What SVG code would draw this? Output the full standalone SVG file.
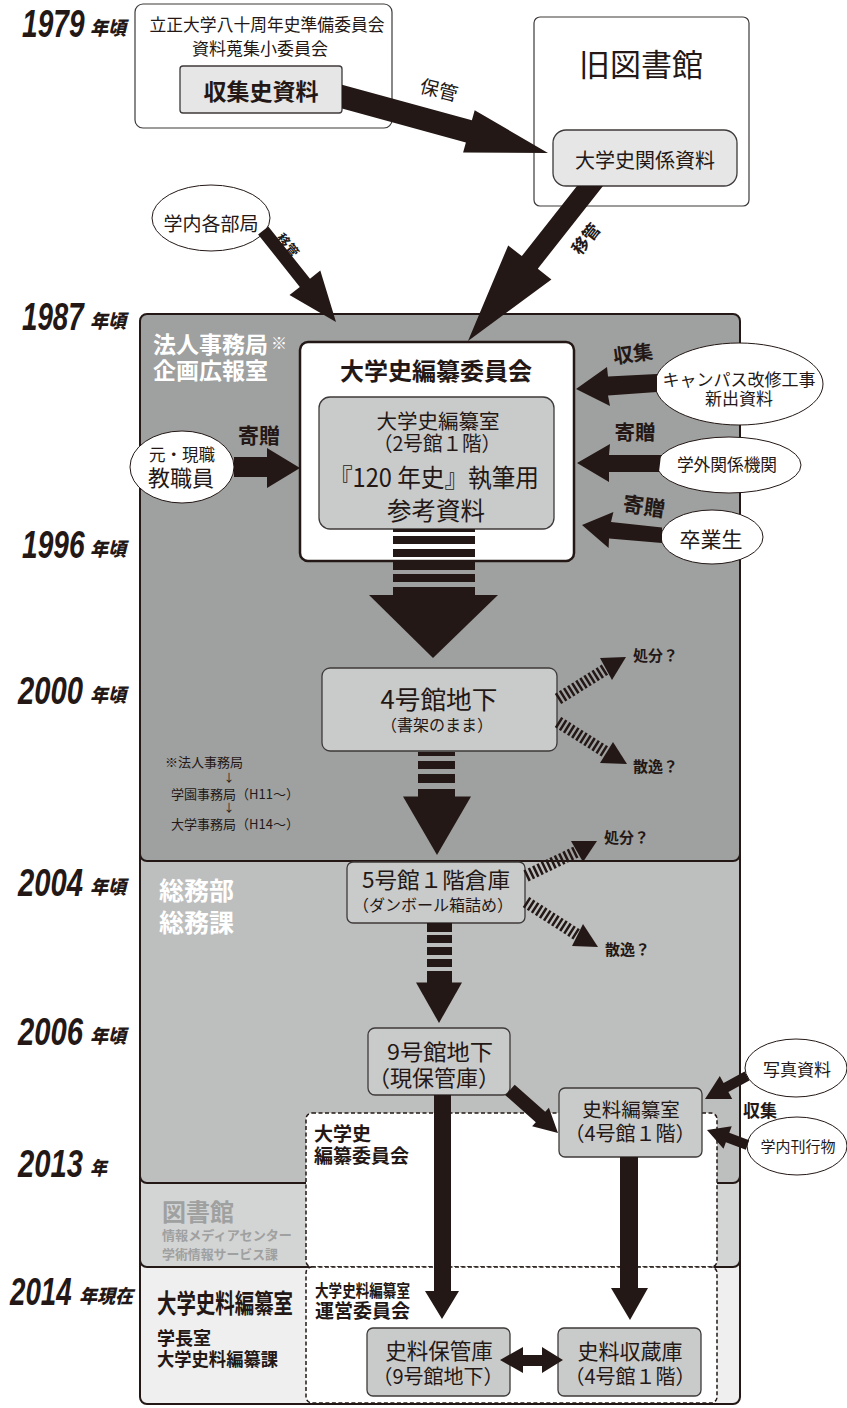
<svg xmlns="http://www.w3.org/2000/svg" width="847" height="1408" viewBox="0 0 847 1408">
<style>
.jp{font-family:"Noto Sans CJK JP","Noto Sans CJK SC",sans-serif;fill:#231815}
.b{font-weight:700}
.m{text-anchor:middle}
.w{fill:#fff}
.g{fill:#9fa0a0}
.yr{font-family:"Liberation Sans",Arial,sans-serif;font-weight:700;font-style:italic;fill:#231815;font-size:38px}
.ys{font-family:"Noto Sans CJK JP",sans-serif;font-weight:900;font-style:italic;fill:#231815;font-size:19px}
.box{fill:#c9caca;stroke:#3e3a39;stroke-width:1.3}
.lbox{fill:#e6e6e6;stroke:#3e3a39;stroke-width:1.3}
.ell{fill:#fff;stroke:#231815;stroke-width:1}
.arr{fill:#231815}
.hat{fill:none;stroke:#231815;stroke-width:12;stroke-dasharray:2.5 2.3}
.reg{stroke:#231815;stroke-width:2}
.dreg{fill:#fff;stroke:#231815;stroke-width:1.5;stroke-dasharray:4 2.5}
</style>

<g id="years">
<text class="yr" transform="translate(22 37) scale(0.74 1)">1979</text><text class="ys" x="90" y="35" textLength="36" lengthAdjust="spacingAndGlyphs">年頃</text>
<text class="yr" transform="translate(22 330) scale(0.73 1)">1987</text><text class="ys" x="90" y="328" textLength="36" lengthAdjust="spacingAndGlyphs">年頃</text>
<text class="yr" transform="translate(22 558) scale(0.74 1)">1996</text><text class="ys" x="90" y="556" textLength="36" lengthAdjust="spacingAndGlyphs">年頃</text>
<text class="yr" transform="translate(18 704) scale(0.77 1)">2000</text><text class="ys" x="90" y="702" textLength="36" lengthAdjust="spacingAndGlyphs">年頃</text>
<text class="yr" transform="translate(18 896) scale(0.77 1)">2004</text><text class="ys" x="90" y="894" textLength="36" lengthAdjust="spacingAndGlyphs">年頃</text>
<text class="yr" transform="translate(18 1045) scale(0.77 1)">2006</text><text class="ys" x="90" y="1043" textLength="36" lengthAdjust="spacingAndGlyphs">年頃</text>
<text class="yr" transform="translate(18 1177) scale(0.77 1)">2013</text><text class="ys" x="90" y="1175" textLength="17" lengthAdjust="spacingAndGlyphs">年</text>
<text class="yr" transform="translate(10 1305) scale(0.73 1)">2014</text><text class="ys" x="79" y="1303" textLength="54" lengthAdjust="spacingAndGlyphs">年現在</text>
</g>

<g id="regions">
<rect class="reg" x="140" y="1150" width="600" height="254" rx="7" fill="#efefef"/>
<rect class="reg" x="140" y="1100" width="600" height="167" rx="7" fill="#d3d4d4"/>
<rect class="reg" x="140" y="800" width="600" height="383" rx="7" fill="#bdbebe"/>
<rect class="reg" x="140" y="314" width="600" height="547" rx="7" fill="#9fa0a0"/>
<text class="jp b w" x="153" y="353" font-size="23">法人事務局</text>
<text class="jp w" x="271" y="349" font-size="16">※</text>
<text class="jp b w" x="153" y="379" font-size="23">企画広報室</text>
<text class="jp" x="165" y="767" font-size="13">※法人事務局</text>
<text class="jp m" x="229" y="782" font-size="11">↓</text>
<text class="jp" x="171" y="799" font-size="13">学園事務局（H11〜）</text>
<text class="jp m" x="229" y="812" font-size="11">↓</text>
<text class="jp" x="171" y="829" font-size="13">大学事務局（H14〜）</text>
<text class="jp b w" x="159" y="900" font-size="25">総務部</text>
<text class="jp b w" x="159" y="932" font-size="25">総務課</text>
<text class="jp b g" x="162" y="1221" font-size="24">図書館</text>
<text class="jp b g" x="162" y="1240" font-size="13" textLength="130" lengthAdjust="spacingAndGlyphs">情報メディアセンター</text>
<text class="jp b g" x="162" y="1259" font-size="13" textLength="116" lengthAdjust="spacingAndGlyphs">学術情報サービス課</text>
<text class="jp b" x="157" y="1313" font-size="26" textLength="136" lengthAdjust="spacingAndGlyphs">大学史料編纂室</text>
<text class="jp b" x="157" y="1345" font-size="18">学長室</text>
<text class="jp b" x="157" y="1366" font-size="18" textLength="121" lengthAdjust="spacingAndGlyphs">大学史料編纂課</text>
<rect class="dreg" x="306" y="1113" width="411" height="154" rx="6"/>
<rect class="dreg" x="306" y="1267" width="411" height="136" rx="6"/>
<text class="jp b" x="314" y="1141" font-size="19">大学史</text>
<text class="jp b" x="314" y="1163" font-size="19">編纂委員会</text>
<text class="jp b" x="315" y="1297" font-size="17" textLength="95" lengthAdjust="spacingAndGlyphs">大学史料編纂室</text>
<text class="jp b" x="315" y="1318" font-size="19" textLength="95" lengthAdjust="spacingAndGlyphs">運営委員会</text>
</g>

<g id="n-junbi">
<rect x="135" y="4" width="257" height="124" rx="8" fill="#fff" stroke="#3e3a39" stroke-width="1.2"/>
<text class="jp m" x="267" y="31" font-size="17" textLength="235" lengthAdjust="spacingAndGlyphs">立正大学八十周年史準備委員会</text>
<text class="jp m" x="260" y="55" font-size="17">資料蒐集小委員会</text>
</g>
<g id="n-shushu">
<rect class="lbox" x="180" y="66" width="162" height="47" rx="3"/>
<text class="jp b m" x="261" y="100" font-size="23">収集史資料</text>
</g>
<g id="n-kyutoshokan">
<rect x="534" y="17" width="215" height="189" rx="6" fill="#fff" stroke="#3e3a39" stroke-width="1.2"/>
<text class="jp m" x="641" y="76" font-size="31">旧図書館</text>
</g>
<g id="n-kankei">
<rect class="lbox" x="553" y="130" width="184" height="56" rx="13"/>
<text class="jp m" x="645" y="168" font-size="20">大学史関係資料</text>
</g>
<g id="n-gakunai">
<ellipse class="ell" cx="211" cy="218" rx="59" ry="33"/>
<text class="jp m" x="211" y="231" font-size="19">学内各部局</text>
</g>
<g id="n-iinkai">
<rect x="300" y="342" width="274" height="219" rx="8" fill="#fff" stroke="#231815" stroke-width="2.5"/>
<text class="jp b m" x="436" y="380" font-size="24">大学史編纂委員会</text>
</g>
<g id="n-hensanshitsu">
<rect class="box" x="319" y="397" width="235" height="132" rx="11"/>
<text class="jp m" x="438" y="429" font-size="20.5">大学史編纂室</text>
<text class="jp m" x="437" y="451" font-size="20" textLength="128" lengthAdjust="spacingAndGlyphs">（2号館１階）</text>
<text class="jp m" x="434" y="487" font-size="25" textLength="210" lengthAdjust="spacingAndGlyphs">『120 年史』執筆用</text>
<text class="jp m" x="436" y="520" font-size="24.5">参考資料</text>
</g>
<g id="n-kyoshokuin">
<ellipse class="ell" cx="182" cy="467" rx="52" ry="36"/>
<text class="jp m" x="182" y="461" font-size="16.5">元・現職</text>
<text class="jp m" x="181" y="486" font-size="22">教職員</text>
</g>
<g id="n-campus">
<ellipse class="ell" cx="739" cy="384" rx="84" ry="41"/>
<text class="jp m" x="739" y="386" font-size="17">キャンパス改修工事</text>
<text class="jp m" x="739" y="405" font-size="17">新出資料</text>
</g>
<g id="n-gakugai">
<ellipse class="ell" cx="729" cy="465" rx="72" ry="28"/>
<text class="jp m" x="727" y="471" font-size="16.7">学外関係機関</text>
</g>
<g id="n-sotsugyosei">
<ellipse class="ell" cx="712" cy="537" rx="51" ry="27"/>
<text class="jp m" x="711" y="547" font-size="21">卒業生</text>
</g>
<g id="n-4gokan">
<rect class="box" x="322" y="668" width="235" height="83" rx="8"/>
<text class="jp m" x="439" y="709" font-size="25" textLength="117" lengthAdjust="spacingAndGlyphs">4号館地下</text>
<text class="jp m" x="437" y="731" font-size="16">（書架のまま）</text>
</g>
<g id="n-5gokan">
<rect class="box" x="347" y="862" width="178" height="61" rx="6"/>
<text class="jp m" x="436" y="888" font-size="22" textLength="148" lengthAdjust="spacingAndGlyphs">5号館１階倉庫</text>
<text class="jp m" x="433" y="911" font-size="16">（ダンボール箱詰め）</text>
</g>
<g id="n-9gokan">
<rect class="box" x="368" y="1028" width="142" height="67" rx="7"/>
<text class="jp m" x="440" y="1060" font-size="22" textLength="106" lengthAdjust="spacingAndGlyphs">9号館地下</text>
<text class="jp m" x="434" y="1086" font-size="22">（現保管庫）</text>
</g>
<g id="n-shiryohensan">
<rect class="box" x="559" y="1088" width="143" height="69" rx="6"/>
<text class="jp m" x="631" y="1117" font-size="19.5">史料編纂室</text>
<text class="jp m" x="630" y="1141" font-size="20">（4号館１階）</text>
</g>
<g id="n-shashin">
<ellipse class="ell" cx="796" cy="1068" rx="51" ry="29"/>
<text class="jp m" x="797" y="1076" font-size="17">写真資料</text>
</g>
<g id="n-kankobutsu">
<ellipse class="ell" cx="797" cy="1146" rx="50" ry="29"/>
<text class="jp m" x="798" y="1152" font-size="15">学内刊行物</text>
</g>
<g id="n-hokanko">
<rect class="box" x="367" y="1328" width="143" height="68" rx="6"/>
<text class="jp m" x="439" y="1359" font-size="21.5">史料保管庫</text>
<text class="jp m" x="438" y="1384" font-size="20">（9号館地下）</text>
</g>
<g id="n-shuzoko">
<rect class="box" x="558" y="1328" width="143" height="68" rx="6"/>
<text class="jp m" x="630" y="1359" font-size="21">史料収蔵庫</text>
<text class="jp m" x="630" y="1384" font-size="20">（4号館１階）</text>
</g>

<g id="connectors">
<polygon class="arr" points="342,84.8 471.9,120.3 474.7,110.2 548,153 463.1,152.6 465.9,142.5 342,108.6"/>
<text class="jp m" x="439" y="97" font-size="19" transform="rotate(14 439 90)">保管</text>
<polygon class="arr" points="577,186 603,186 537.8,268.7 551.4,279.4 468,341 508.2,245.4 521.8,256.1"/>
<text class="jp b m" x="586" y="245" font-size="17" transform="rotate(-52 586 239)">移管</text>
<polygon class="arr" points="268.3,226.4 310,278.8 320.3,270.6 336,322 289.5,295.1 299.8,286.9 258.1,234.4"/>
<text class="jp b m" x="288" y="250" font-size="13" transform="rotate(50 288 245)">移管</text>
<polygon class="arr" points="234,457 267,457 267,448 300,468 267,488 267,477 234,477"/>
<text class="jp b m" x="259" y="443" font-size="21">寄贈</text>
<polygon class="arr" points="657,374 608,376.5 607,367 576,389 610,406 608,395.5 657,392"/>
<text class="jp b m" x="633" y="361" font-size="20" transform="rotate(-8 633 353)">収集</text>
<polygon class="arr" points="661,455 609,455 610,444 577,463 609,482 609,472 659,472"/>
<text class="jp b m" x="635" y="440" font-size="20.5">寄贈</text>
<polygon class="arr" points="662,527.5 611,522 613.4,512 582,525 608.6,548 609,538.5 662,543"/>
<text class="jp b m" x="644" y="514" font-size="21" transform="rotate(8 644 506)">寄贈</text>

<rect class="arr" x="393" y="529" width="82" height="3"/>
<rect class="arr" x="393" y="536" width="82" height="8"/>
<rect class="arr" x="393" y="549" width="82" height="8"/>
<rect class="arr" x="393" y="562" width="82" height="8"/>
<rect class="arr" x="393" y="574" width="82" height="8"/>
<rect class="arr" x="393" y="587" width="82" height="9"/>
<polygon class="arr" points="369,595 498,595 433,658"/>

<line class="hat" x1="558" y1="699" x2="606" y2="669"/>
<polygon class="arr" points="600,658 626,657 612,680"/>
<text class="jp b" x="633" y="661" font-size="15">処分？</text>
<line class="hat" x1="558" y1="722" x2="606.5" y2="752.5"/>
<polygon class="arr" points="600,763 627,764 613,742"/>
<text class="jp b" x="633" y="772" font-size="15">散逸？</text>

<rect class="arr" x="418" y="752" width="37" height="4"/>
<rect class="arr" x="418" y="761" width="37" height="8"/>
<rect class="arr" x="418" y="774" width="37" height="9"/>
<rect class="arr" x="418" y="789" width="37" height="8"/>
<polygon class="arr" points="403,796.5 471,796.5 437,855"/>

<line class="hat" x1="526" y1="876" x2="577" y2="851.5"/>
<polygon class="arr" points="571,841 597,841 583,862"/>
<text class="jp b" x="604" y="843" font-size="15">処分？</text>
<line class="hat" x1="526" y1="902" x2="577.5" y2="935"/>
<polygon class="arr" points="572,946 598,947 583,924"/>
<text class="jp b" x="605" y="955" font-size="15">散逸？</text>

<rect class="arr" x="427" y="923" width="25" height="9"/>
<rect class="arr" x="427" y="935" width="25" height="8"/>
<rect class="arr" x="427" y="947" width="25" height="8"/>
<rect class="arr" x="427" y="959" width="25" height="8"/>
<rect class="arr" x="427" y="971" width="25" height="12"/>
<polygon class="arr" points="416,982.5 462,982.5 439,1023"/>

<polygon class="arr" points="514.7,1084.8 545.2,1111.8 548.9,1107.8 558,1133 532.1,1126.2 535.8,1122.2 505.3,1095.2"/>
<polygon class="arr" points="434,1095 451,1095 451,1291 459,1291 442,1319 425,1291 434,1291"/>
<polygon class="arr" points="620,1157 638,1157 638,1288 648,1288 630,1320 611,1288 620,1288"/>
<polygon class="arr" points="500,1360 523,1347 523,1355 542,1355 542,1347 563,1360 542,1373 542,1366 523,1366 523,1373"/>

<polygon class="arr" points="749.4,1080.4 728.4,1091.9 732.2,1098.9 705,1099 719.8,1076.1 723.6,1083.1 744.6,1071.6"/>
<polygon class="arr" points="749.2,1140.3 729.3,1132.8 731.7,1126.2 707,1130 723.5,1148.8 725.9,1142.2 745.8,1149.7"/>
<text class="jp b" x="743" y="1117" font-size="17">収集</text>
</g>
</svg>
